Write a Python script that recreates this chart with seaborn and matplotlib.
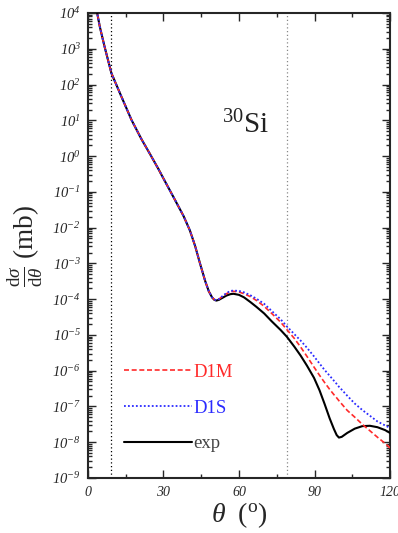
import numpy as np
import pandas as pd
import matplotlib
matplotlib.use("Agg")
import matplotlib.pyplot as plt
from matplotlib.ticker import FixedLocator, LogLocator, FuncFormatter, MultipleLocator, NullFormatter
import seaborn as sns

# Scattering angle grid (degrees)
theta = [3.2, 4.7, 6.6, 9.3, 13.3, 17.3, 21.2, 24.7, 27.9, 30.7, 34, 38, 40.5, 42.6,
         44.5, 46.6, 48, 49.3, 50.2, 51, 52, 53.5, 55, 56.6, 57.8, 60, 62, 64.5, 67,
         70, 73, 76.5, 79, 82, 84.5, 87, 89.8, 92, 94, 96, 97.7, 98.8, 99.7, 100.8,
         103, 106, 109, 112, 115, 118, 120]

# Forward part, common to all three curves (log10 of dsigma/dtheta in mb)
log_fwd = [4.17, 3.62, 3.06, 2.32, 1.66, 1.01, 0.48, 0.05, -0.35, -0.72, -1.15, -1.68,
           -2.08, -2.52, -3.00, -3.50, -3.78, -3.95]

# Beyond the first minimum
log_exp_tail = [-4.02, -4.04, -4.02, -3.96, -3.90, -3.86, -3.85, -3.88, -3.95, -4.08,
                -4.22, -4.40, -4.62, -4.86, -5.05, -5.33, -5.58, -5.86, -6.20, -6.55,
                -6.93, -7.33, -7.63, -7.80, -7.87, -7.85, -7.74, -7.62, -7.55, -7.54,
                -7.58, -7.66, -7.74]
log_d1m_tail = [-4.01, -4.03, -4.00, -3.92, -3.85, -3.79, -3.78, -3.80, -3.85, -3.93,
                -4.04, -4.20, -4.40, -4.64, -4.85, -5.10, -5.34, -5.60, -5.90, -6.13,
                -6.33, -6.52, -6.67, -6.76, -6.84, -6.93, -7.11, -7.30, -7.50, -7.68,
                -7.86, -8.03, -8.16]
log_d1s_tail = [-4.01, -4.03, -4.00, -3.91, -3.83, -3.77, -3.76, -3.77, -3.81, -3.89,
                -3.99, -4.13, -4.33, -4.56, -4.76, -4.98, -5.16, -5.36, -5.60, -5.80,
                -5.98, -6.14, -6.28, -6.37, -6.45, -6.53, -6.70, -6.92, -7.10, -7.26,
                -7.42, -7.53, -7.60]

series_names = ["D1M", "D1S", "exp"]
series_colors = ["#ff2a2a", "#2a2aff", "black"]
label_colors = ["#ff2a2a", "#2a2aff", "#444444"]
series_dashes = [(3, 1.6), (1, 1.2), ""]
series_widths = [1.2, 1.3, 1.5]

x_ticks = [0, 30, 60, 90, 120]
vline_positions = [9.2, 78.9]
vline_colors = ["black", "#888888"]

tails = {"D1M": log_d1m_tail, "D1S": log_d1s_tail, "exp": log_exp_tail}
frames = []
for name in series_names:
    logs = np.array(log_fwd + tails[name])
    frames.append(pd.DataFrame({"theta": theta, "sigma": np.power(10.0, logs), "model": name}))
df = pd.concat(frames, ignore_index=True)

sns.set_style("ticks")
plt.rcParams["font.family"] = ["Liberation Serif", "DejaVu Serif"]
# math digits/roman in italic serif (for tick labels); \mathsf gives upright serif
plt.rcParams["mathtext.fontset"] = "custom"
plt.rcParams["mathtext.rm"] = "Liberation Serif:italic"
plt.rcParams["mathtext.it"] = "Liberation Serif:italic"
plt.rcParams["mathtext.sf"] = "Liberation Serif"
plt.rcParams["mathtext.cal"] = "Liberation Serif"

fig = plt.figure(figsize=(3.98, 5.33), dpi=100)
ax = fig.add_axes([0.221, 0.1032, 0.759, 0.8724])

for xv, c in zip(vline_positions, vline_colors):
    ax.axvline(xv, color=c, lw=0.9, ls=(0, (1, 2)), zorder=1)

handles = []
for name, col, dsh, lw in zip(series_names, series_colors, series_dashes, series_widths):
    sub = df[df["model"] == name]
    sns.lineplot(data=sub, x="theta", y="sigma", ax=ax, color=col, lw=lw,
                 label=name, zorder=3 if name == "exp" else 4)
    line = ax.get_lines()[-1]
    if dsh:
        line.set_dashes(dsh)
    handles.append(line)

ax.set_yscale("log")
ax.set_xlim(0, 120)
ax.set_ylim(1e-9, 1e4)

ax.xaxis.set_major_locator(FixedLocator(x_ticks))
ax.xaxis.set_minor_locator(MultipleLocator(15))
ax.yaxis.set_major_locator(LogLocator(base=10, numticks=20))
ax.yaxis.set_minor_locator(LogLocator(base=10, subs=np.arange(2, 10), numticks=20))
ax.yaxis.set_minor_formatter(NullFormatter())


def decade_label(v, pos):
    e = int(round(np.log10(v)))
    return r"$10^{%d}$" % e


ax.yaxis.set_major_formatter(FuncFormatter(decade_label))
ax.xaxis.set_major_formatter(FuncFormatter(lambda v, p: "%d" % v))

ax.tick_params(which="both", direction="in", top=True, right=True, width=1.0)
ax.tick_params(which="major", length=6)
ax.tick_params(which="minor", length=3)
ax.tick_params(axis="x", which="major", labelsize=10, pad=6)
ax.tick_params(axis="y", which="major", labelsize=10.5, pad=5)
for lab in ax.get_xticklabels():
    lab.set_fontstyle("italic")
for sp in ax.spines.values():
    sp.set_linewidth(1.5)

ax.set_xlabel(r"$\theta\ \ \mathsf{(}^{\mathsf{o}}\mathsf{)}$", fontsize=20, labelpad=1)
ax.set_ylabel(r"$\frac{\mathsf{d}\sigma}{\mathsf{d}\theta}\ \mathsf{(mb)}$", fontsize=19.5, labelpad=5)

ax.text(0.444, 0.758, r"$^{\mathsf{30}}\mathsf{Si}$", transform=ax.transAxes, fontsize=21,
        ha="left", va="center", color="#222222")

leg = ax.legend(handles=handles, labels=series_names, loc="upper left",
                bbox_to_anchor=(0.12, 0.246), frameon=False, fontsize=13.5,
                handlelength=3.6, handletextpad=0.1, labelspacing=1.0,
                borderpad=0, borderaxespad=0)
for t, c in zip(leg.get_texts(), label_colors):
    t.set_color(c)

fig.savefig("out.png", dpi=100)
